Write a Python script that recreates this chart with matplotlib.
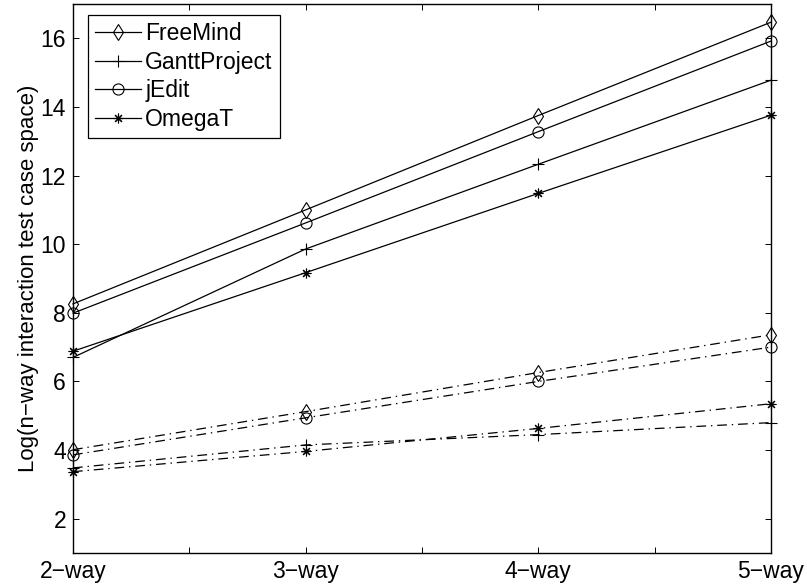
import matplotlib
matplotlib.use('Agg')
import matplotlib.pyplot as plt

plt.rcParams['font.family'] = ['Liberation Sans', 'DejaVu Sans']
plt.rcParams['lines.scale_dashes'] = False

# categorie sull'asse x
livelli = ['2−way', '3−way', '4−way', '5−way']
x = [1, 2, 3, 4]

# linee continue
freemind = [8.26, 11.0, 13.75, 16.47]
gantt = [6.70, 9.86, 12.33, 14.78]
jedit = [7.99, 10.62, 13.28, 15.92]
omegat = [6.88, 9.17, 11.48, 13.76]

# linee tratto-punto
freemind_b = [4.01, 5.12, 6.26, 7.36]
gantt_b = [3.48, 4.15, 4.45, 4.80]
jedit_b = [3.86, 4.94, 6.00, 7.00]
omegat_b = [3.37, 3.96, 4.63, 5.35]

nomi = ['FreeMind', 'GanttProject', 'jEdit', 'OmegaT']
marcatori = ['d', '+', 'o', (8, 2, 0)]
taglie = [8, 9, 8, 7]

W, H = 807, 588
fig = plt.figure(figsize=(W / 100, H / 100), dpi=100)
ax = fig.add_axes([73 / W, 35 / H, 698 / W, 549 / H])

dashdot = (0, (7, 3.5, 1, 3.5))
for serie, serie_b, nome, m, s in zip([freemind, gantt, jedit, omegat],
                                      [freemind_b, gantt_b, jedit_b, omegat_b],
                                      nomi, marcatori, taglie):
    ax.plot(x, serie, color='black', lw=0.9, marker=m, ms=s,
            mfc='none', mec='black', mew=0.8, label=nome, clip_on=False)
    ax.plot(x, serie_b, color='black', lw=0.9, ls=dashdot, marker=m, ms=s,
            mfc='none', mec='black', mew=0.8, clip_on=False)

ax.set_xlim(1, 4)
ax.set_ylim(1, 17)
ax.set_xticks([1, 1.5, 2, 2.5, 3, 3.5, 4])
ax.set_xticklabels([livelli[0], '', livelli[1], '', livelli[2], '', livelli[3]])
ax.set_yticks(range(2, 17, 2))
ax.tick_params(direction='in', top=True, right=True, length=4.5, width=0.7,
               labelsize=16.5, pad=5)
for sp in ax.spines.values():
    sp.set_linewidth(1.0)

ax.set_ylabel('Log(n−way interaction test case space)', fontsize=16, labelpad=1)

leg = ax.legend(loc='upper left', bbox_to_anchor=(88 / W, 1 - 15 / H),
                bbox_transform=fig.transFigure, borderaxespad=0,
                fontsize=16.5, handlelength=2.0, handletextpad=0.2,
                borderpad=0.3, labelspacing=0.25, fancybox=False, framealpha=1,
                edgecolor='black')
leg.get_frame().set_linewidth(0.9)

fig.savefig('out.png', dpi=100)
